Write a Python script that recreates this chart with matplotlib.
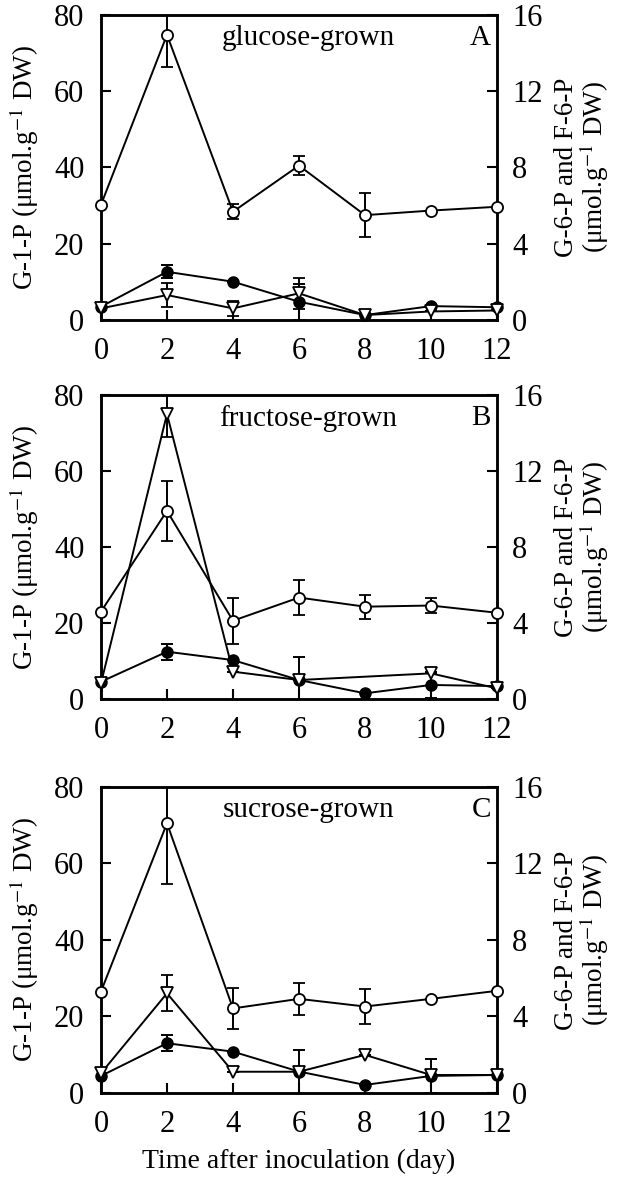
import numpy as np
import matplotlib
matplotlib.use("Agg")
import matplotlib.pyplot as plt

plt.rcParams['font.family'] = ['Liberation Serif', 'DejaVu Serif']
plt.rcParams['mathtext.fontset'] = 'stix'

days = [0, 2, 4, 6, 8, 10, 12]

# panel A: glucose-grown
g1p_A = [30.2, 74.8, 28.4, 40.5, 27.5, 28.7, 29.7]
g1p_A_err = [0, 8.5, 2.0, 2.5, 5.8, 0, 0]
fill_A = [0.70, 2.53, 2.01, 0.96, 0.26, 0.73, 0.67]
fill_A_err = [0, 0.35, 0, 0.95, 0, 0, 0]
tri_A = [0.61, 1.31, 0.61, 1.40, 0.26, 0.45, 0.50]
tri_A_err = [0, 0.62, 0.40, 0.80, 0, 0, 0]
tri_A_days = days

# panel B: fructose-grown
g1p_B = [23.0, 49.5, 20.6, 26.7, 24.3, 24.6, 22.7]
g1p_B_err = [0, 7.9, 6.0, 4.6, 3.2, 2.0, 0]
fill_B = [0.91, 2.49, 2.05, 1.00, 0.30, 0.74, 0.68]
fill_B_err = [0, 0.42, 0, 1.20, 0, 0.70, 0]
tri_B = [0.82, 15.0, 1.44, 1.00, 1.35, 0.56]
tri_B_err = [0, 1.2, 0, 0, 0, 0]
tri_B_days = [0, 2, 4, 6, 10, 12]

# panel C: sucrose-grown
g1p_C = [26.5, 70.5, 22.1, 24.6, 22.6, 24.6, 26.7]
g1p_C_err = [0, 16.0, 5.3, 4.2, 4.7, 0, 0]
fill_C = [0.89, 2.60, 2.16, 1.12, 0.42, 0.89, 0.94]
fill_C_err = [0, 0.43, 0, 1.15, 0, 0.89, 0]
tri_C = [1.03, 5.21, 1.11, 1.11, 1.99, 0.94, 0.94]
tri_C_err = [0, 0.95, 0, 0, 0, 0, 0]
tri_C_days = days

panels = [
    ("glucose-grown", "A", g1p_A, g1p_A_err, fill_A, fill_A_err, tri_A_days, tri_A, tri_A_err),
    ("fructose-grown", "B", g1p_B, g1p_B_err, fill_B, fill_B_err, tri_B_days, tri_B, tri_B_err),
    ("sucrose-grown", "C", g1p_C, g1p_C_err, fill_C, fill_C_err, tri_C_days, tri_C, tri_C_err),
]

fig = plt.figure(figsize=(6.21, 11.77), dpi=100)
boxes = [(0.7281, 0.9873), (0.4061, 0.6644), (0.0714, 0.3314)]
left, right = 0.1626, 0.8003

eb = dict(color='black', lw=1.4, capsize=4, capthick=1.4, elinewidth=1.4)
for (title, letter, g1p, g1p_err, fill, fill_err, tdays, tri, tri_err), (b, t) in zip(panels, boxes):
    ax = fig.add_axes([left, b, right - left, t - b])
    ax2 = ax.twinx()
    ax.set_xlim(0, 12)
    ax.set_ylim(0, 80)
    ax2.set_ylim(0, 16)
    ax.set_xticks(days)
    ax.set_yticks([0, 20, 40, 60, 80])
    ax2.set_yticks([0, 4, 8, 12, 16])
    ax.tick_params(axis='y', direction='in', length=7, width=1.5, labelsize=22, pad=12)
    ax.tick_params(axis='x', direction='in', length=7, width=1.5, labelsize=22, pad=12)
    ax2.tick_params(axis='y', direction='in', length=7, width=1.5, labelsize=22, pad=11)
    for a in (ax, ax2):
        for s in a.spines.values():
            s.set_linewidth(1.8)

    e1 = ax2.errorbar(days, fill, yerr=fill_err, fmt='-o', ms=8, mfc='black', mec='black',
                      zorder=3, **eb)
    e2 = ax2.errorbar(tdays, tri, yerr=tri_err, fmt='-v', ms=8.5, mfc='white', mec='black',
                      mew=1.3, zorder=3, **eb)
    e3 = ax2.errorbar(days, np.array(g1p) / 5.0, yerr=np.array(g1p_err) / 5.0, fmt='-o',
                      ms=8, mfc='white', mec='black', mew=1.3, zorder=4, **eb)
    for e in (e1, e2, e3):
        e[0].set_clip_on(False)

    ax.text(0.523, 0.968, title, transform=ax.transAxes, ha='center', va='top', fontsize=21)
    ax.text(0.985, 0.968, letter, transform=ax.transAxes, ha='right', va='top', fontsize=21)
    ax.set_ylabel('G-1-P (\u03bcmol.g$^{-1}$ DW)', fontsize=19.5, labelpad=9)
    ax2.set_ylabel('G-6-P and F-6-P\n(\u03bcmol.g$^{-1}$ DW)', fontsize=19.5, labelpad=8,
                   linespacing=0.95)
    if letter == 'C':
        ax.set_xlabel('Time after inoculation (day)', fontsize=20, labelpad=7)

fig.savefig('out.png', dpi=100)
